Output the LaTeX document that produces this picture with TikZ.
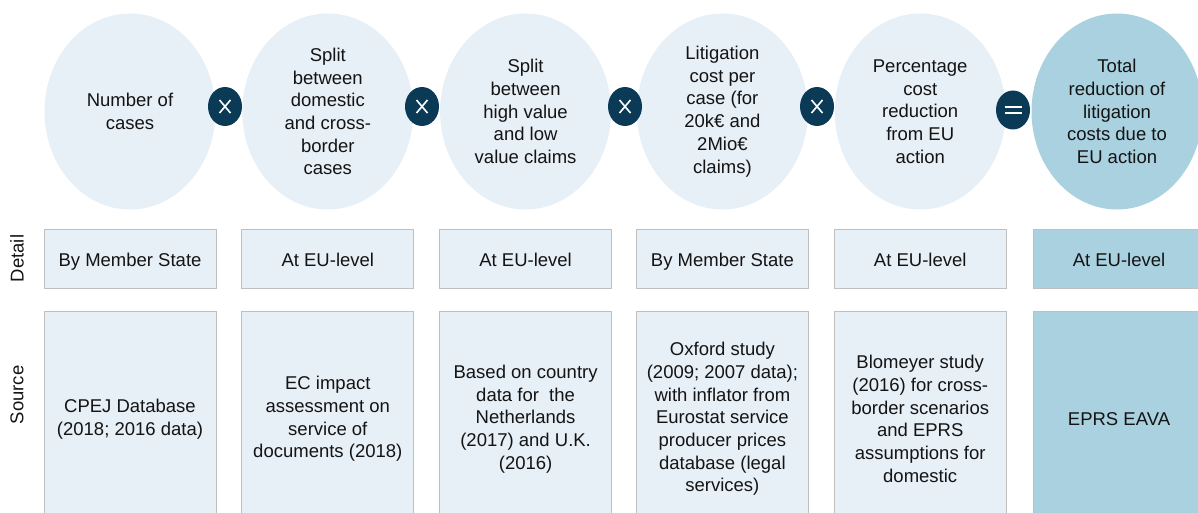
\documentclass[tikz,border=0pt]{standalone}
\usepackage{fontspec}
\setmainfont{Liberation Sans}
\usetikzlibrary{shapes.geometric}
\definecolor{lightfill}{HTML}{E7EFF7}
\definecolor{darkfill}{HTML}{A9D1DF}
\definecolor{opfill}{HTML}{0B3A57}
\definecolor{boxline}{HTML}{BFBFBF}
\definecolor{txt}{HTML}{141414}
\begin{document}
\begin{tikzpicture}[x=1pt,y=-1pt,
  every node/.style={font=\fontsize{18.5}{22.7}\selectfont, text=txt, align=center, inner sep=0pt},
  bubble/.style={ellipse, fill=lightfill, minimum width=171pt, minimum height=196pt},
  darkbubble/.style={bubble, fill=darkfill},
  op/.style={ellipse, fill=opfill, minimum width=34pt, minimum height=39pt},
  oplines/.style={white, line width=1.6pt},
  detailbox/.style={rectangle, draw=boxline, line width=0.8pt, fill=lightfill, minimum width=172pt, minimum height=59pt, text height=18pt, text depth=3pt},
  darkdetail/.style={detailbox, fill=darkfill},
  sourcebox/.style={rectangle, draw=boxline, line width=0.8pt, fill=lightfill, minimum width=172pt, minimum height=216pt},
  darksource/.style={sourcebox, fill=darkfill},
  sidelabel/.style={rotate=90}
]
\useasboundingbox (0,0) rectangle (1198,513);
\clip (0,0) rectangle (1198,513);

% bubbles
\node[bubble] (b1) at (130,111.5) {Number of\\cases};
\node[bubble] (b2) at (327.8,111.5) {Split\\between\\domestic\\and cross-\\border\\cases};
\node[bubble] (b3) at (525.6,111.5) {Split\\between\\high value\\and low\\value claims};
\node[bubble] (b4) at (722.4,111.5) {Litigation\\cost per\\case (for\\20k€ and\\2Mio€\\claims)};
\node[bubble] (b5) at (920.2,111.5) {Percentage\\cost\\reduction\\from EU\\action};
\node[darkbubble] (b6) at (1117,111.5) {Total\\reduction of\\litigation\\costs due to\\EU action};

% operators
\foreach \n/\x in {o1/225, o2/422, o3/625, o4/817}{
  \node[op] (\n) at (\x,106.5) {};
  \draw[oplines] ([shift={(-5.5,-6.5)}]\n.center) -- ([shift={(5.5,6.5)}]\n.center);
  \draw[oplines] ([shift={(-5.5,6.5)}]\n.center) -- ([shift={(5.5,-6.5)}]\n.center);
}
\node[op] (o5) at (1013,110) {};
\draw[oplines] ([shift={(-8.5,-3.2)}]o5.center) -- ([shift={(8.5,-3.2)}]o5.center);
\draw[oplines] ([shift={(-8.5,3.2)}]o5.center) -- ([shift={(8.5,3.2)}]o5.center);

% detail row
\node[detailbox] (d1) at (130,258.5) {By Member State};
\node[detailbox] (d2) at (327.8,258.5) {At EU-level};
\node[detailbox] (d3) at (525.6,258.5) {At EU-level};
\node[detailbox] (d4) at (722.4,258.5) {By Member State};
\node[detailbox] (d5) at (920.2,258.5) {At EU-level};
\node[darkdetail] (d6) at (1119,258.5) {At EU-level};

% source row
\node[sourcebox] (s1) at (130,419) {CPEJ Database\\(2018; 2016 data)};
\node[sourcebox] (s2) at (327.8,419) {EC impact\\assessment on\\service of\\documents (2018)};
\node[sourcebox] (s3) at (525.6,419) {Based on country\\data for\ \ the\\Netherlands\\(2017) and U.K.\\(2016)};
\node[sourcebox] (s4) at (722.4,419) {Oxford study\\(2009; 2007 data);\\with inflator from\\Eurostat service\\producer prices\\database (legal\\services)};
\node[sourcebox] (s5) at (920.2,419) {Blomeyer study\\(2016) for cross-\\border scenarios\\and EPRS\\assumptions for\\domestic};
\node[darksource] (s6) at (1119,419) {EPRS EAVA};

% side labels
\node[sidelabel] (ldetail) at (17,258.5) {Detail};
\node[sidelabel] (lsource) at (17,395) {Source};
\end{tikzpicture}
\end{document}
